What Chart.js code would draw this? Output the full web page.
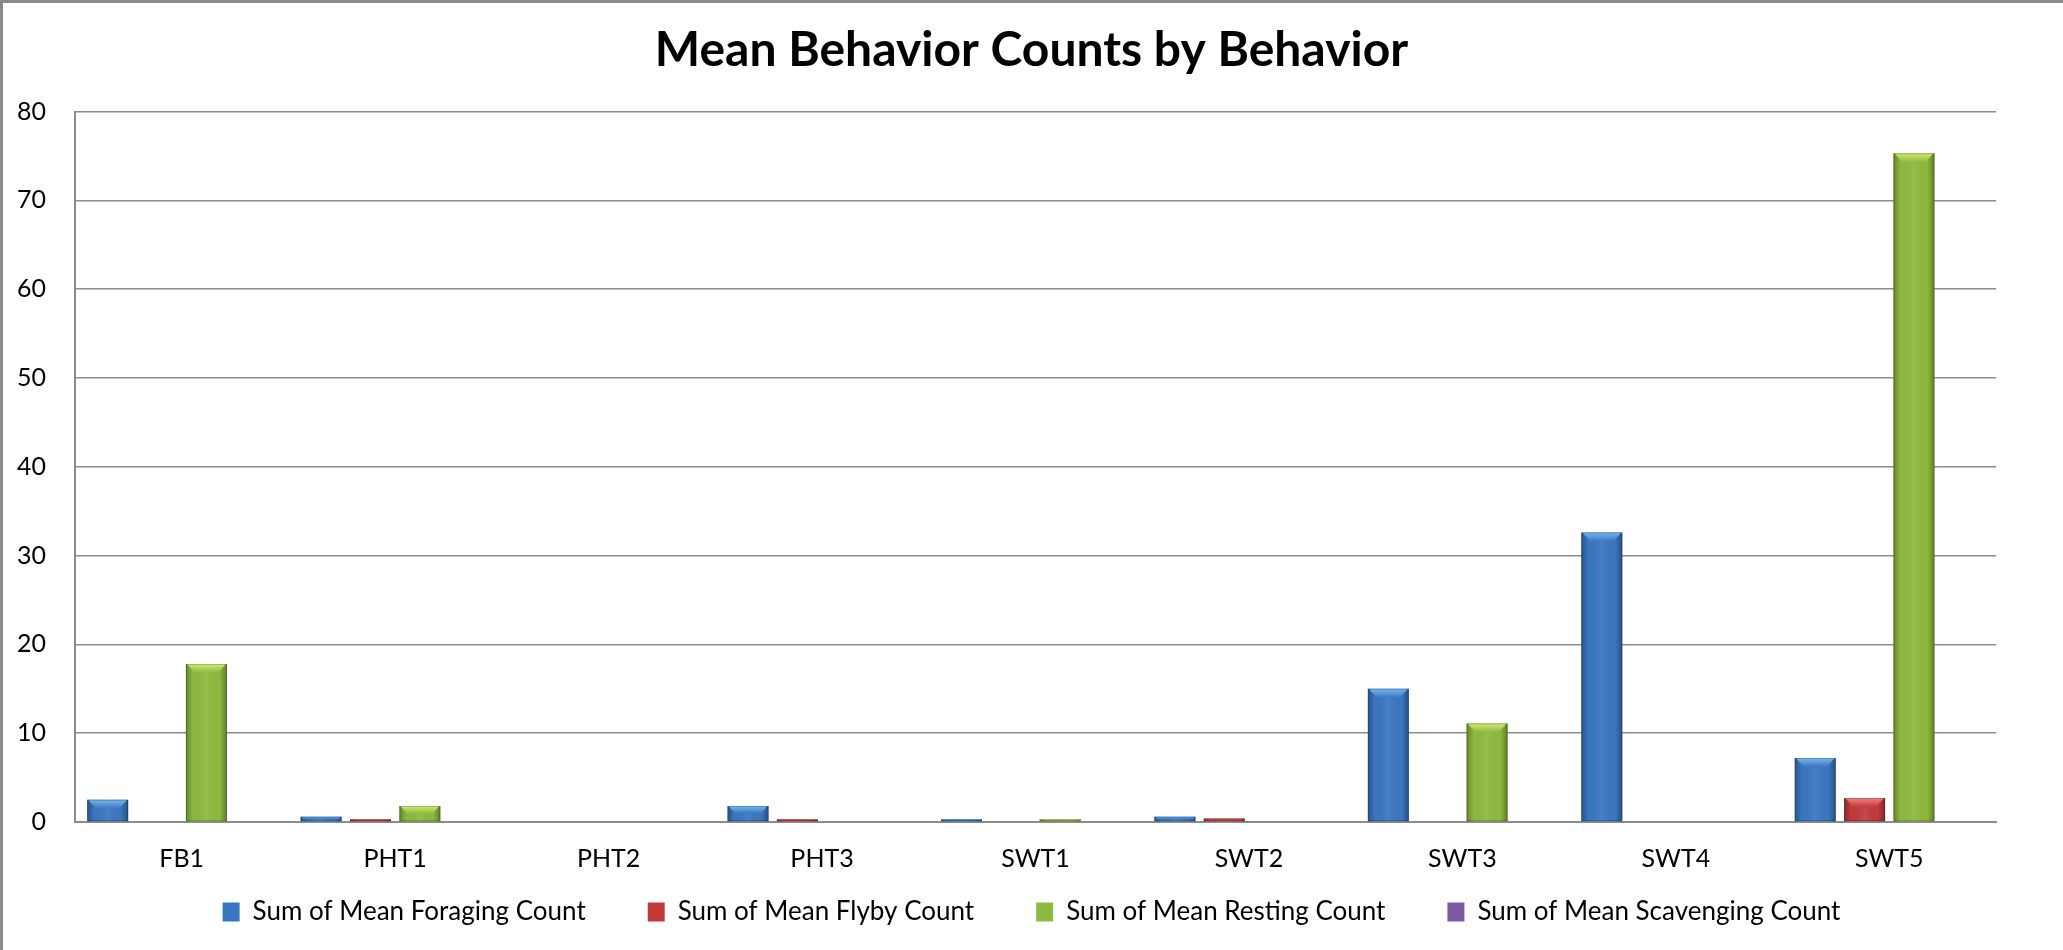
<!DOCTYPE html>
<html>
<head>
<meta charset="utf-8">
<script src="https://cdn.jsdelivr.net/npm/chart.js@4.4.1/dist/chart.umd.min.js"></script>
<style>
  html, body { margin: 0; padding: 0; background: #fff; overflow: hidden; }
  .chart { position: relative; width: 2063px; height: 950px; }
</style>
</head>
<body>
<div class="chart"><canvas id="barChart"></canvas></div>
<script>
//------------------------------------------------------------
const categories = ['FB1', 'PHT1', 'PHT2', 'PHT3', 'SWT1', 'SWT2', 'SWT3', 'SWT4', 'SWT5'];
const foragingCounts = [2.5, 0.6, 0, 1.8, 0.3, 0.6, 15.0, 32.6, 7.2];
const flybyCounts = [0, 0.3, 0, 0.3, 0, 0.4, 0, 0, 2.7];
const restingCounts = [17.8, 1.8, 0, 0, 0.3, 0, 11.1, 0, 75.3];
const scavengingCounts = [0, 0, 0, 0, 0, 0, 0, 0, 0];
const yTicks = [0, 10, 20, 30, 40, 50, 60, 70, 80];

const fontFamily = 'Lato, "Open Sans", sans-serif';
const gridColor = '#8c8c8c';

// main colour, top bevel colour
const seriesStyles = [
    ['#3a76c0', '#74b8f0'],
    ['#c23a3c', '#f08282'],
    ['#8db93e', '#cdee74'],
    ['#7d5aa8', '#b79be0'],
];

//------------------------------------------------------------
// frame round the whole picture
const framePlugin = {
    id: 'frame',
    beforeDraw(chart) {
        const ctx = chart.ctx;
        ctx.save();
        ctx.fillStyle = '#fff';
        ctx.fillRect(0, 0, chart.width, chart.height);
        ctx.strokeStyle = '#8a8a8a';
        ctx.lineWidth = 3;
        ctx.beginPath();
        ctx.moveTo(1.5, chart.height);
        ctx.lineTo(1.5, 1.5);
        ctx.lineTo(chart.width, 1.5);
        ctx.stroke();
        ctx.restore();
    }
};

//------------------------------------------------------------
// Excel-like bevel shading drawn over each bar
const bevelPlugin = {
    id: 'bevel',
    afterDatasetsDraw(chart) {
        const ctx = chart.ctx;
        chart.data.datasets.forEach((ds, i) => {
            const meta = chart.getDatasetMeta(i);
            meta.data.forEach(bar => {
                const { x, y, base, width } = bar.getProps(['x', 'y', 'base', 'width'], true);
                const h = base - y;
                if (h < 0.5) return;
                const l = x - width / 2, r = x + width / 2;
                ctx.save();
                const g = ctx.createLinearGradient(l, 0, r, 0);
                g.addColorStop(0, 'rgba(0,0,0,0.28)');
                g.addColorStop(0.18, 'rgba(0,0,0,0.0)');
                g.addColorStop(0.5, 'rgba(255,255,255,0.08)');
                g.addColorStop(0.82, 'rgba(0,0,0,0.0)');
                g.addColorStop(1, 'rgba(0,0,0,0.32)');
                ctx.fillStyle = g;
                ctx.fillRect(l, y, width, h);
                const b = Math.min(9, h / 2, width / 4);
                const tg = ctx.createLinearGradient(0, y, 0, y + b);
                tg.addColorStop(0, seriesStyles[i][1]);
                tg.addColorStop(1, seriesStyles[i][0]);
                ctx.fillStyle = tg;
                ctx.beginPath();
                ctx.moveTo(l + 1, y);
                ctx.lineTo(r - 1, y);
                ctx.lineTo(r - b, y + b);
                ctx.lineTo(l + b, y + b);
                ctx.closePath();
                ctx.fill();
                ctx.strokeStyle = 'rgba(0,0,0,0.22)';
                ctx.lineWidth = 1;
                ctx.strokeRect(l + 0.5, y + 0.5, width - 1, h - 1);
                ctx.restore();
            });
        });
    }
};

//------------------------------------------------------------
function makeDataset(label, data, index) {
    return {
        label: label,
        data: data,
        backgroundColor: seriesStyles[index][0],
        borderWidth: 0,
        barPercentage: 0.83,
        categoryPercentage: 0.925,
    };
}

const context = document.getElementById('barChart').getContext('2d');

const chart = new Chart(context, {
    type: 'bar',
    data: {
        labels: categories,
        datasets: [
            makeDataset('Sum of Mean Foraging Count', foragingCounts, 0),
            makeDataset('Sum of Mean Flyby Count', flybyCounts, 1),
            makeDataset('Sum of Mean Resting Count', restingCounts, 2),
            makeDataset('Sum of Mean Scavenging Count', scavengingCounts, 3),
        ],
    },
    options: {
        responsive: true,
        maintainAspectRatio: false,
        animation: false,
        layout: { padding: { top: 12, bottom: 15, left: 0, right: 0 } },
        plugins: {
            title: {
                display: true,
                text: 'Mean Behavior Counts by Behavior',
                color: '#000',
                font: { family: fontFamily, size: 48, weight: 'bold' },
                padding: { top: 10, bottom: 32 },
            },
            legend: {
                position: 'bottom',
                labels: {
                    color: '#000',
                    font: { family: fontFamily, size: 26 },
                    boxWidth: 17,
                    boxHeight: 19,
                    padding: 62,
                },
            },
            tooltip: { enabled: false },
        },
        scales: {
            x: {
                grid: { display: false, drawTicks: false },
                border: { display: true, color: gridColor, width: 2 },
                // mirrored so the labels are not clipped to the thin axis box;
                // they sit over the legend's empty top padding
                ticks: { color: '#000', font: { family: fontFamily, size: 25 }, mirror: true, padding: -52 },
                afterFit(scale) { scale.height = 15; },
            },
            y: {
                min: 0,
                max: 80,
                afterBuildTicks(scale) { scale.ticks = yTicks.map(v => ({ value: v })); },
                grid: { color: gridColor, lineWidth: 1.5, drawTicks: false },
                border: { display: true, color: gridColor, width: 2 },
                ticks: { color: '#000', font: { family: fontFamily, size: 25 }, padding: 29 },
                afterFit(scale) { scale.width = 75; },
            },
            yRight: {
                position: 'right',
                display: true,
                grid: { display: false, drawTicks: false },
                border: { display: false },
                ticks: { display: false },
                afterFit(scale) { scale.width = 67; },
            },
        },
    },
    plugins: [framePlugin, bevelPlugin],
});
</script>
</body>
</html>
